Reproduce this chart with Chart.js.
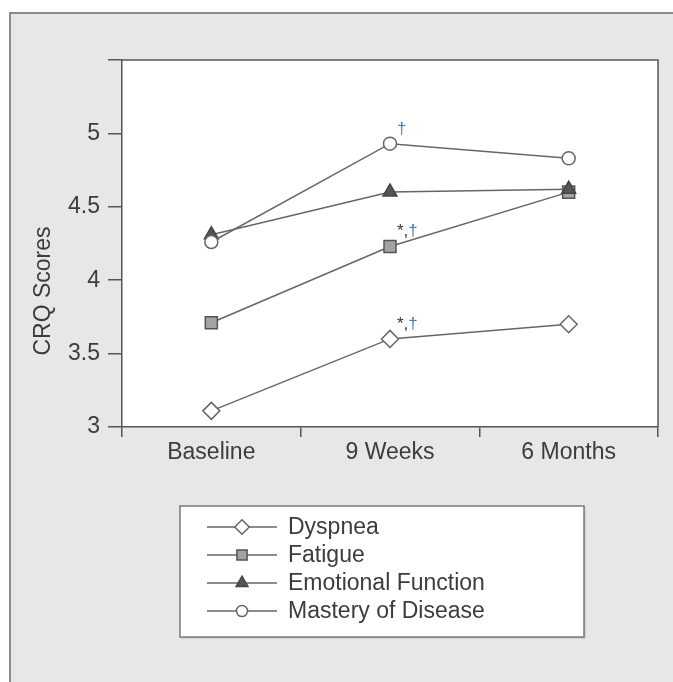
<!DOCTYPE html>
<html><head><meta charset="utf-8">
<script src="https://cdn.jsdelivr.net/npm/chart.js@4"></script>
<style>html,body{margin:0;padding:0;background:#fff}canvas{display:block}</style>
</head><body>
<div style="width:673px;height:682px;position:relative"><canvas id="c" width="673" height="682"></canvas></div>
<script>
// ---- data ----
const categories = ['Baseline', '9 Weeks', '6 Months'];
const seriesNames = ['Dyspnea', 'Fatigue', 'Emotional Function', 'Mastery of Disease'];
const dyspnea = [3.11, 3.60, 3.70];
const fatigue = [3.71, 4.23, 4.60];
const emotional = [4.31, 4.60, 4.62];
const mastery = [4.26, 4.93, 4.83];
const yTickValues = [3, 3.5, 4, 4.5, 5];
const yTitle = 'CRQ Scores';
// significance marks: series index, category index, prefix, dagger
const marks = [
  { series: 3, index: 1, prefix: '', dagger: '\u2020' },
  { series: 1, index: 1, prefix: '*,', dagger: '\u2020' },
  { series: 0, index: 1, prefix: '*,', dagger: '\u2020' }
];

const FONT = '"Liberation Sans", Arial, Helvetica, sans-serif';
const AXIS = '#555';
const TEXT = '#3c3c3c';
const FS = 23;

function drawMarker(ctx, style, r, x, y, fill, stroke, lw) {
  ctx.save();
  ctx.beginPath();
  if (style === 'circle') {
    ctx.arc(x, y, r, 0, Math.PI * 2);
  } else if (style === 'rect') {
    const s = Math.SQRT1_2 * r;
    ctx.rect(x - s, y - s, 2 * s, 2 * s);
  } else if (style === 'rectRot') {
    ctx.moveTo(x - r, y); ctx.lineTo(x, y - r); ctx.lineTo(x + r, y); ctx.lineTo(x, y + r); ctx.closePath();
  } else if (style === 'triangle') {
    for (let k = 0; k < 3; k++) {
      const a = k * 2 * Math.PI / 3;
      const px = x + Math.sin(a) * r, py = y - Math.cos(a) * r;
      if (k === 0) ctx.moveTo(px, py); else ctx.lineTo(px, py);
    }
    ctx.closePath();
  }
  ctx.fillStyle = fill; ctx.fill();
  ctx.lineWidth = lw; ctx.strokeStyle = stroke; ctx.stroke();
  ctx.restore();
}

const framePlugin = {
  id: 'frame',
  beforeDraw(chart) {
    const ctx = chart.ctx, a = chart.chartArea;
    ctx.save();
    ctx.fillStyle = '#ffffff';
    ctx.fillRect(0, 0, chart.width, chart.height);
    ctx.fillStyle = '#e6e7e9';
    ctx.fillRect(10, 13, chart.width, chart.height);
    ctx.strokeStyle = '#8a8a8a';
    ctx.lineWidth = 2;
    ctx.beginPath();
    ctx.moveTo(10, chart.height + 2); ctx.lineTo(10, 13); ctx.lineTo(chart.width + 2, 13);
    ctx.stroke();
    ctx.fillStyle = '#ffffff';
    ctx.fillRect(a.left, a.top, a.right - a.left, a.bottom - a.top);
    ctx.restore();
  },
  afterDraw(chart) {
    const ctx = chart.ctx, a = chart.chartArea;
    ctx.save();
    ctx.strokeStyle = AXIS; ctx.lineWidth = 1.5;
    ctx.beginPath();
    ctx.moveTo(a.left, a.top); ctx.lineTo(a.right, a.top); ctx.lineTo(a.right, a.bottom);
    ctx.stroke();
    ctx.fillStyle = TEXT;
    ctx.font = FS + 'px ' + FONT;
    ctx.textAlign = 'center'; ctx.textBaseline = 'middle';
    ctx.translate(44, 291); ctx.rotate(-Math.PI / 2);
    ctx.fillText(yTitle, 0, 0);
    ctx.restore();

    ctx.save();
    const bx = 180, by = 506, bw = 404, bh = 131;
    ctx.shadowColor = 'rgba(0,0,0,0.25)'; ctx.shadowOffsetX = 1; ctx.shadowOffsetY = 1; ctx.shadowBlur = 2;
    ctx.fillStyle = '#ffffff';
    ctx.fillRect(bx, by, bw, bh);
    ctx.shadowColor = 'transparent';
    ctx.strokeStyle = '#7a7a7a'; ctx.lineWidth = 1.5;
    ctx.strokeRect(bx, by, bw, bh);
    chart.data.datasets.forEach((ds, i) => {
      const y = 527 + i * 28;
      ctx.strokeStyle = ds.borderColor; ctx.lineWidth = ds.borderWidth;
      ctx.beginPath(); ctx.moveTo(207, y); ctx.lineTo(277, y); ctx.stroke();
      drawMarker(ctx, ds.pointStyle, ds.pointRadius * 0.85, 242, y, ds.pointBackgroundColor, ds.pointBorderColor, ds.pointBorderWidth);
      ctx.fillStyle = TEXT; ctx.font = FS + 'px ' + FONT;
      ctx.textAlign = 'left'; ctx.textBaseline = 'middle';
      ctx.fillText(ds.label, 288, y + 1);
    });
    ctx.restore();
  },
  afterDatasetsDraw(chart) {
    const ctx = chart.ctx;
    ctx.save();
    ctx.font = '17px ' + FONT;
    ctx.textAlign = 'left'; ctx.textBaseline = 'alphabetic';
    marks.forEach(m => {
      const pt = chart.getDatasetMeta(m.series).data[m.index];
      let x = pt.x + 7;
      const y = pt.y - 10;
      if (m.prefix) {
        ctx.fillStyle = '#333';
        ctx.fillText(m.prefix, x, y);
        x += ctx.measureText(m.prefix).width;
      }
      ctx.fillStyle = '#4a7ea6';
      ctx.fillText(m.dagger, x, y);
    });
    ctx.restore();
  }
};

function mk(label, data, style, radius, bg, border, order) {
  return {
    label, data, order,
    borderColor: '#666', borderWidth: 1.5,
    pointStyle: style, pointRadius: radius, pointHoverRadius: radius,
    pointBackgroundColor: bg, pointBorderColor: border, pointBorderWidth: 1.5,
    fill: false, tension: 0
  };
}

Chart.defaults.font.family = FONT;
Chart.defaults.font.size = FS;
Chart.defaults.color = TEXT;

new Chart(document.getElementById('c'), {
  type: 'line',
  data: {
    labels: categories,
    datasets: [
      mk(seriesNames[0], dyspnea, 'rectRot', 8.5, '#ffffff', '#666', 3),
      mk(seriesNames[1], fatigue, 'rect', 8.5, '#a3a3a3', '#555', 2),
      mk(seriesNames[2], emotional, 'triangle', 8, '#555555', '#444', 1),
      mk(seriesNames[3], mastery, 'circle', 6.5, '#ffffff', '#666', 0)
    ]
  },
  options: {
    responsive: false,
    devicePixelRatio: 1,
    animation: false,
    layout: { padding: { left: 0, right: 15, top: 60, bottom: 0 } },
    plugins: { legend: { display: false }, tooltip: { enabled: false }, title: { display: false } },
    scales: {
      x: {
        type: 'category',
        offset: true,
        grid: { offset: true, drawOnChartArea: false, drawTicks: true, tickLength: 10, color: AXIS, lineWidth: 1.5 },
        border: { display: true, color: AXIS, width: 1.5 },
        ticks: { padding: 2, color: TEXT, font: { size: FS }, maxRotation: 0, autoSkip: false },
        afterFit(s) { s.height = 682 - 427; s.paddingLeft = 0; s.paddingRight = 0; }
      },
      y: {
        min: 3, max: 5.5,
        afterBuildTicks(s) { s.ticks = yTickValues.concat([5.5]).map(v => ({ value: v })); },
        grid: { drawOnChartArea: false, drawTicks: true, tickLength: 14, color: AXIS, lineWidth: 1.5 },
        border: { display: true, color: AXIS, width: 1.5 },
        ticks: {
          padding: 8, color: TEXT, font: { size: FS },
          callback: v => (yTickValues.includes(v) ? String(v) : '')
        },
        afterFit(s) { s.width = 122; s.paddingTop = 0; s.paddingBottom = 0; }
      }
    }
  },
  plugins: [framePlugin]
});
</script>
</body></html>
